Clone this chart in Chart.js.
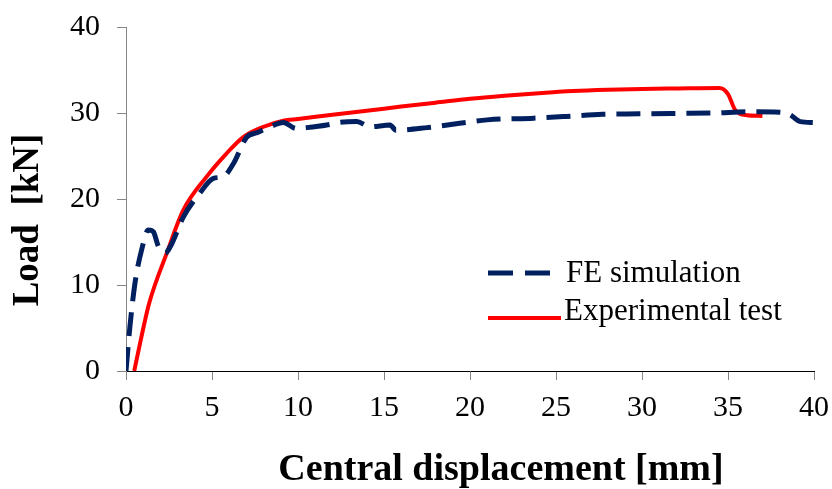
<!DOCTYPE html>
<html>
<head>
<meta charset="utf-8">
<script src="https://cdn.jsdelivr.net/npm/chart.js@4/dist/chart.umd.min.js"></script>
<style>
  html, body { margin: 0; padding: 0; background: #fff; }
  #wrap { width: 832px; height: 489px; }
</style>
</head>
<body>
<div id="wrap"><canvas id="c" width="832" height="489"></canvas></div>
<script>
// Load-displacement curves: FE model vs. laboratory test
const feDisp = [0, 0.23, 0.52, 0.91, 1.3, 1.59, 1.88, 2.27, 2.66, 3.33, 4.3, 5.08, 5.66, 6.24, 7.02, 7.6, 8.37, 9.15, 9.9, 10.5, 11.67, 12.4, 13.4, 14.2, 15.35, 15.7, 17.5, 19.4, 21.0, 23.7, 25.6, 27.7, 29.8, 32.0, 34.2, 36.2, 38.0, 38.6, 39.2, 40];
const feLoad = [0, 5.2, 10.2, 14.1, 16.4, 16.2, 14.5, 13.7, 14.8, 17.9, 20.7, 22.4, 22.6, 24.1, 27.2, 27.7, 28.4, 28.9, 28.2, 28.3, 28.6, 28.9, 29.0, 28.4, 28.6, 28.0, 28.3, 28.8, 29.2, 29.4, 29.6, 29.85, 29.9, 29.95, 30.0, 30.15, 30.1, 29.8, 29.0, 28.9];

const expDisp = [0.48, 0.9, 1.35, 2.37, 3.33, 4.69, 5.8, 6.82, 8.0, 9.15, 10, 12, 14, 16, 18, 20, 22, 24, 26, 28, 30, 32, 34.5, 35.0, 35.4, 35.7, 36.1, 37.0];
const expLoad = [0, 4, 7.9, 13.7, 18.7, 22.6, 25.2, 27.2, 28.4, 29.1, 29.3, 29.8, 30.25, 30.75, 31.2, 31.65, 32.0, 32.3, 32.55, 32.7, 32.8, 32.85, 32.9, 32.2, 30.4, 29.9, 29.75, 29.65];

const seriesNames = ['FE simulation', 'Experimental test'];
const xTitle = 'Central displacement [mm]';
const yTitle = 'Load  [kN]';

const FE_COLOR = '#002060';
const EXP_COLOR = '#ff0000';
const SERIF = '"Liberation Serif", "Times New Roman", serif';

const toPoints = (xs, ys) => xs.map((x, i) => ({ x: x, y: ys[i] }));

// axis titles and the in-plot legend
const decorations = {
  id: 'decorations',
  afterDraw(chart) {
    const ctx = chart.ctx;
    ctx.save();
    ctx.fillStyle = '#000';
    ctx.font = 'bold 38px ' + SERIF;
    ctx.textAlign = 'center';
    ctx.textBaseline = 'alphabetic';
    ctx.fillText(xTitle, 501, 480);

    ctx.save();
    ctx.translate(38, 220);
    ctx.rotate(-Math.PI / 2);
    ctx.font = 'bold 37px ' + SERIF;
    ctx.fillText(yTitle, 0, 0);
    ctx.restore();

    // legend
    ctx.lineWidth = 5;
    ctx.lineCap = 'butt';
    ctx.strokeStyle = FE_COLOR;
    ctx.setLineDash([25, 12]);
    ctx.beginPath();
    ctx.moveTo(488, 273);
    ctx.lineTo(560, 273);
    ctx.stroke();

    ctx.setLineDash([]);
    ctx.lineWidth = 4;
    ctx.strokeStyle = EXP_COLOR;
    ctx.beginPath();
    ctx.moveTo(488, 318);
    ctx.lineTo(561, 318);
    ctx.stroke();

    ctx.font = '31px ' + SERIF;
    ctx.textAlign = 'left';
    ctx.fillText(seriesNames[0], 566, 282);
    ctx.fillText(seriesNames[1], 564, 320);
    ctx.restore();
  }
};

new Chart(document.getElementById('c'), {
  type: 'line',
  data: {
    datasets: [
      {
        label: seriesNames[0],
        data: toPoints(feDisp, feLoad),
        borderColor: FE_COLOR,
        borderWidth: 5,
        borderDash: [24, 11],
        borderCapStyle: 'butt',
        pointRadius: 0,
        cubicInterpolationMode: 'monotone',
        fill: false
      },
      {
        label: seriesNames[1],
        data: toPoints(expDisp, expLoad),
        borderColor: EXP_COLOR,
        borderWidth: 4,
        pointRadius: 0,
        cubicInterpolationMode: 'monotone',
        fill: false
      }
    ]
  },
  options: {
    responsive: false,
    animation: false,
    devicePixelRatio: 1,
    layout: { padding: { left: 0, top: 27, right: 18, bottom: 0 } },
    plugins: { legend: { display: false }, tooltip: { enabled: false } },
    scales: {
      x: {
        type: 'linear',
        min: 0,
        max: 40,
        afterFit(scale) {
          scale.height = 118;
          scale.paddingLeft = 0;
          scale.paddingRight = 0;
        },
        ticks: {
          stepSize: 5,
          color: '#000',
          font: { family: SERIF, size: 30 },
          padding: 10,
          maxRotation: 0
        },
        grid: { drawOnChartArea: false, drawTicks: true, tickLength: 9, color: '#868686' },
        border: { display: true, color: '#000', width: 1 }
      },
      y: {
        type: 'linear',
        min: 0,
        max: 40,
        afterFit(scale) {
          scale.width = 126;
          scale.paddingTop = 0;
          scale.paddingBottom = 0;
        },
        ticks: {
          stepSize: 10,
          color: '#000',
          font: { family: SERIF, size: 30 },
          padding: 17
        },
        grid: { drawOnChartArea: false, drawTicks: true, tickLength: 9, color: '#868686' },
        border: { display: true, color: '#868686', width: 1 }
      }
    }
  },
  plugins: [decorations]
});
</script>
</body>
</html>
